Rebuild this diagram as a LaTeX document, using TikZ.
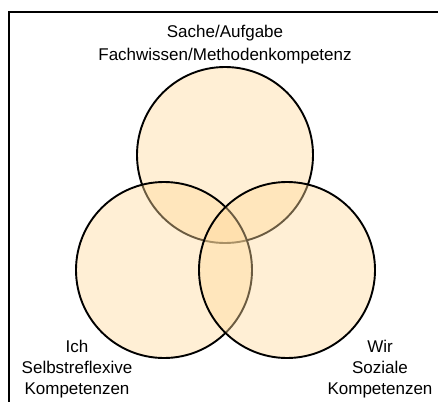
\documentclass[tikz,border=0pt]{standalone}
\usepackage{fontspec}
\setmainfont{Liberation Sans}
\begin{document}
\begin{tikzpicture}[x=1pt,y=-1pt,
  lbl/.style={font=\fontsize{17}{20}\selectfont, inner sep=0pt, anchor=base},
  venn/.style={circle, minimum size=176pt, inner sep=0pt, draw=black, line width=1.9pt,
    fill={rgb,255:red,255;green,218;blue,155}, fill opacity=0.42, draw opacity=1}]
\useasboundingbox (0,0) rectangle (438,401);
\fill[white] (0,0) rectangle (438,401);
\draw[line width=2pt] (9,405) -- (9,12.5) -- (442,12.5);
\node[venn] (sache) at (225,155) {};
\node[venn] (ich) at (164,270) {};
\node[venn] (wir) at (287,270) {};
\node[lbl] (t1) at (225,38) {Sache/Aufgabe};
\node[lbl] (t2) at (225,61) {Fachwissen/Methodenkompetenz};
\node[lbl] (l1) at (77,352) {Ich};
\node[lbl] (l2) at (77,373) {Selbstreflexive};
\node[lbl] (l3) at (77,394) {Kompetenzen};
\node[lbl] (r1) at (380,352) {Wir};
\node[lbl] (r2) at (380,373) {Soziale};
\node[lbl] (r3) at (380,394) {Kompetenzen};
\end{tikzpicture}
\end{document}
